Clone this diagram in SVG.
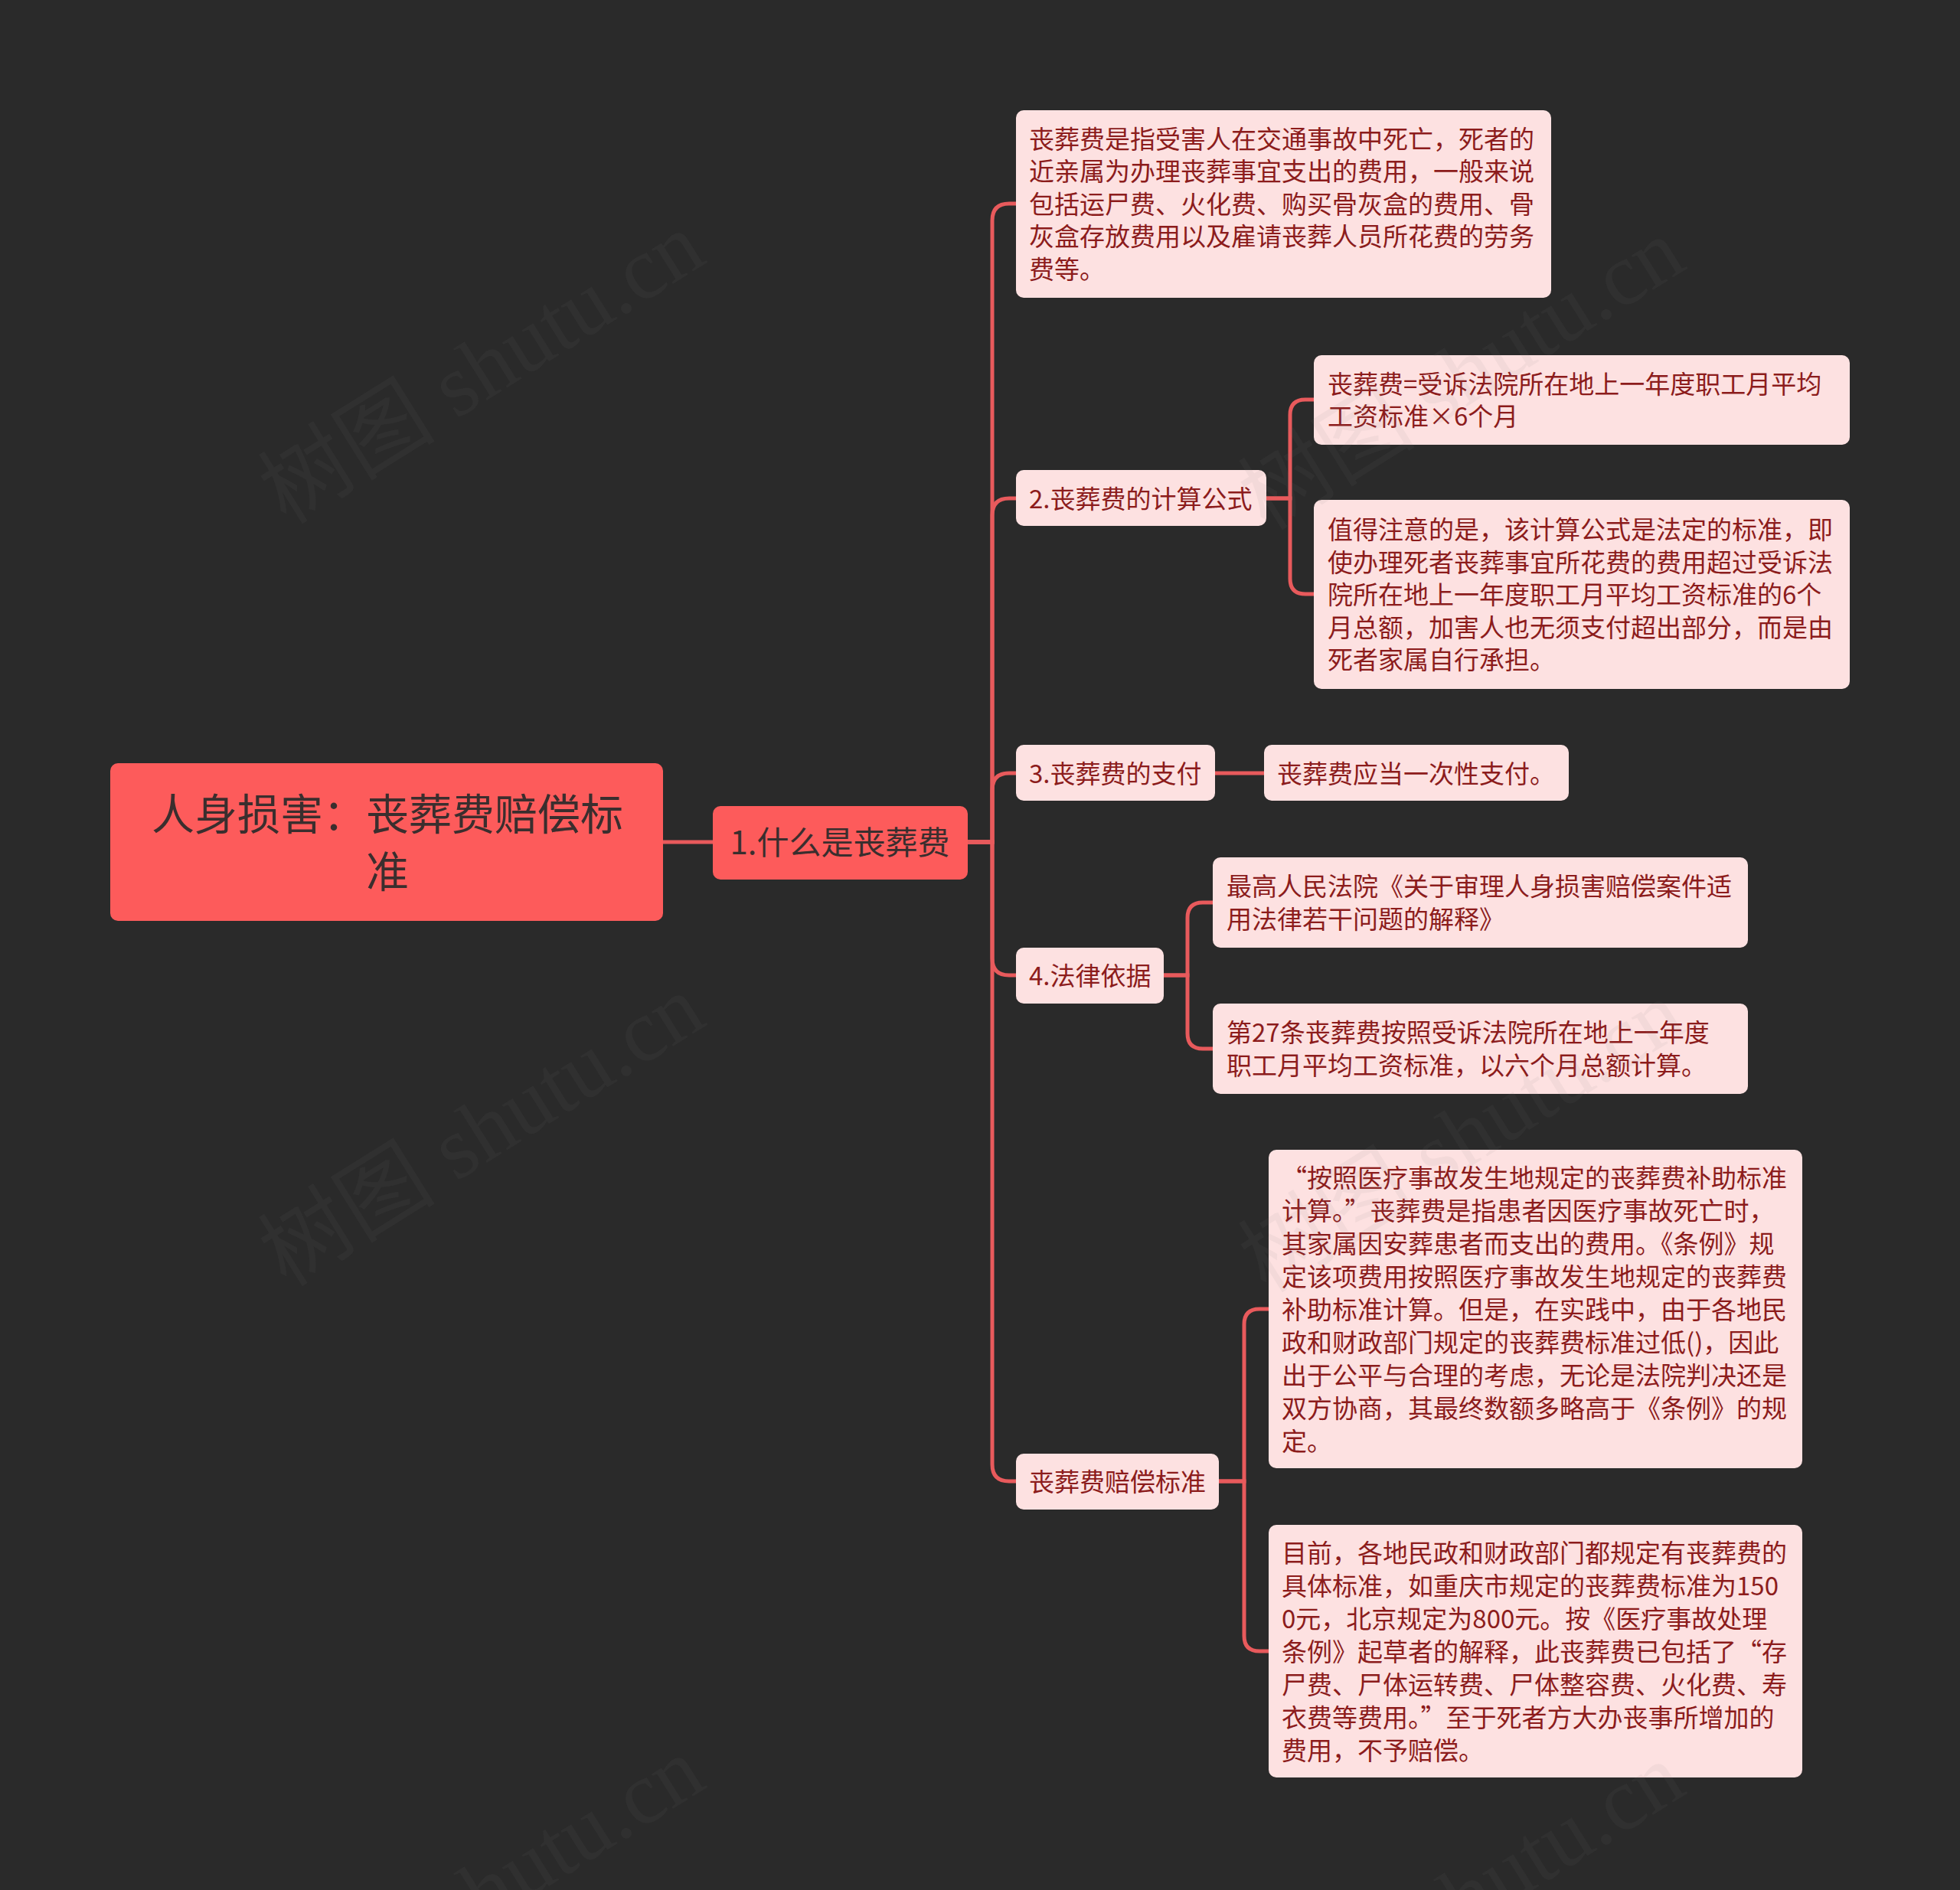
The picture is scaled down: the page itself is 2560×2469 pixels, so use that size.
<svg xmlns="http://www.w3.org/2000/svg" width="2560" height="2469" viewBox="0 0 2560 2469">
<style>
.wm{font-family:"Liberation Serif","Noto Sans CJK SC",serif;font-size:116px;fill:#808080;fill-opacity:0.08;text-anchor:middle}
.root{fill:#fd5b5b}
.n1{fill:#fd5b5b}
.leaf{fill:#fde1e1}
.rt{font-family:"Noto Sans CJK SC",sans-serif;font-size:56px;fill:#3a2e2e;text-anchor:middle}
.t1{font-family:"Noto Sans CJK SC",sans-serif;font-size:42px;fill:#3a2e2e;text-anchor:middle}
.t{font-family:"Noto Sans CJK SC",sans-serif;font-size:33px;fill:#8c1c1c}
.c{fill:none;stroke:#e85a5c;stroke-width:5;stroke-linecap:round}
</style>
<rect width="2560" height="2469" fill="#2a2a2a"/>
<g id="connectors">
<path class="c" d="M865,1100 H931"/>
<path class="c" d="M1264,1100 H1296 V288 Q1296,266 1318,266 H1327"/>
<path class="c" d="M1264,1100 H1296 V673 Q1296,651 1318,651 H1327"/>
<path class="c" d="M1264,1100 H1296 V1032 Q1296,1010 1318,1010 H1327"/>
<path class="c" d="M1264,1100 H1296 V1252 Q1296,1274 1318,1274 H1327"/>
<path class="c" d="M1264,1100 H1296 V1913 Q1296,1935 1318,1935 H1327"/>
<path class="c" d="M1654,651 H1685 V542 Q1685,522 1705,522 H1716"/>
<path class="c" d="M1654,651 H1685 V756 Q1685,776 1705,776 H1716"/>
<path class="c" d="M1587,1010 H1651"/>
<path class="c" d="M1520,1274 H1551 V1199 Q1551,1179 1571,1179 H1584"/>
<path class="c" d="M1520,1274 H1551 V1350 Q1551,1370 1571,1370 H1584"/>
<path class="c" d="M1592,1935 H1625 V1730 Q1625,1710 1645,1710 H1657"/>
<path class="c" d="M1592,1935 H1625 V2137 Q1625,2157 1645,2157 H1657"/>
</g>
<g id="root">
<rect class="root" x="144" y="997" width="722" height="206" rx="10"/>
<text class="rt" x="506" y="1084">人身损害：丧葬费赔偿标</text>
<text class="rt" x="506" y="1159">准</text>
</g>
<g id="node1">
<rect class="n1" x="931" y="1053" width="333" height="96" rx="10"/>
<text class="t1" x="1097" y="1116">1.什么是丧葬费</text>
</g>
<g id="nodeA">
<rect class="leaf" x="1327" y="144" width="699" height="245" rx="10"/>
<text class="t" x="1344" y="193.5">丧葬费是指受害人在交通事故中死亡，死者的</text>
<text class="t" x="1344" y="236">近亲属为办理丧葬事宜支出的费用，一般来说</text>
<text class="t" x="1344" y="278.5">包括运尸费、火化费、购买骨灰盒的费用、骨</text>
<text class="t" x="1344" y="321">灰盒存放费用以及雇请丧葬人员所花费的劳务</text>
<text class="t" x="1344" y="363.5">费等。</text>
</g>
<g id="nodeB">
<rect class="leaf" x="1327" y="614" width="327" height="73" rx="10"/>
<text class="t" x="1344" y="663.5">2.丧葬费的计算公式</text>
</g>
<g id="nodeB1">
<rect class="leaf" x="1716" y="464" width="700" height="117" rx="10"/>
<text class="t" x="1734" y="513.5">丧葬费=受诉法院所在地上一年度职工月平均</text>
<text class="t" x="1734" y="556">工资标准×6个月</text>
</g>
<g id="nodeB2">
<rect class="leaf" x="1716" y="653" width="700" height="247" rx="10"/>
<text class="t" x="1734" y="704">值得注意的是，该计算公式是法定的标准，即</text>
<text class="t" x="1734" y="746.5">使办理死者丧葬事宜所花费的费用超过受诉法</text>
<text class="t" x="1734" y="789">院所在地上一年度职工月平均工资标准的6个</text>
<text class="t" x="1734" y="831.5">月总额，加害人也无须支付超出部分，而是由</text>
<text class="t" x="1734" y="874">死者家属自行承担。</text>
</g>
<g id="nodeC">
<rect class="leaf" x="1327" y="973" width="260" height="73" rx="10"/>
<text class="t" x="1344" y="1022.5">3.丧葬费的支付</text>
</g>
<g id="nodeC1">
<rect class="leaf" x="1651" y="973" width="398" height="73" rx="10"/>
<text class="t" x="1668" y="1022.5">丧葬费应当一次性支付。</text>
</g>
<g id="nodeD">
<rect class="leaf" x="1327" y="1238" width="193" height="73" rx="10"/>
<text class="t" x="1344" y="1287">4.法律依据</text>
</g>
<g id="nodeD1">
<rect class="leaf" x="1584" y="1120" width="699" height="118" rx="10"/>
<text class="t" x="1602" y="1170">最高人民法院《关于审理人身损害赔偿案件适</text>
<text class="t" x="1602" y="1212.5">用法律若干问题的解释》</text>
</g>
<g id="nodeD2">
<rect class="leaf" x="1584" y="1311" width="699" height="118" rx="10"/>
<text class="t" x="1602" y="1361">第27条丧葬费按照受诉法院所在地上一年度</text>
<text class="t" x="1602" y="1403.5">职工月平均工资标准，以六个月总额计算。</text>
</g>
<g id="nodeE">
<rect class="leaf" x="1327" y="1899" width="265" height="73" rx="10"/>
<text class="t" x="1344" y="1948">丧葬费赔偿标准</text>
</g>
<g id="nodeE1">
<rect class="leaf" x="1657" y="1502" width="697" height="416" rx="10"/>
<text class="t" x="1674" y="1550.5">“按照医疗事故发生地规定的丧葬费补助标准</text>
<text class="t" x="1674" y="1593.5">计算。”丧葬费是指患者因医疗事故死亡时，</text>
<text class="t" x="1674" y="1636.5">其家属因安葬患者而支出的费用。《条例》规</text>
<text class="t" x="1674" y="1679.5">定该项费用按照医疗事故发生地规定的丧葬费</text>
<text class="t" x="1674" y="1722.5">补助标准计算。但是，在实践中，由于各地民</text>
<text class="t" x="1674" y="1765.5">政和财政部门规定的丧葬费标准过低()，因此</text>
<text class="t" x="1674" y="1808.5">出于公平与合理的考虑，无论是法院判决还是</text>
<text class="t" x="1674" y="1851.5">双方协商，其最终数额多略高于《条例》的规</text>
<text class="t" x="1674" y="1894.5">定。</text>
</g>
<g id="nodeE2">
<rect class="leaf" x="1657" y="1992" width="697" height="330" rx="10"/>
<text class="t" x="1674" y="2040.5">目前，各地民政和财政部门都规定有丧葬费的</text>
<text class="t" x="1674" y="2083.5">具体标准，如重庆市规定的丧葬费标准为150</text>
<text class="t" x="1674" y="2126.5">0元，北京规定为800元。按《医疗事故处理</text>
<text class="t" x="1674" y="2169.5">条例》起草者的解释，此丧葬费已包括了“存</text>
<text class="t" x="1674" y="2212.5">尸费、尸体运转费、尸体整容费、火化费、寿</text>
<text class="t" x="1674" y="2255.5">衣费等费用。”至于死者方大办丧事所增加的</text>
<text class="t" x="1674" y="2298.5">费用，不予赔偿。</text>
</g>
<g id="watermarks">
<text class="wm" transform="translate(650,514) rotate(-32)">树图 shutu.cn</text>
<text class="wm" transform="translate(650,1510) rotate(-32)">树图 shutu.cn</text>
<text class="wm" transform="translate(1930,522) rotate(-32)">树图 shutu.cn</text>
<text class="wm" transform="translate(1930,1518) rotate(-32)">树图 shutu.cn</text>
<text class="wm" transform="translate(650,2506) rotate(-32)">树图 shutu.cn</text>
<text class="wm" transform="translate(1930,2514) rotate(-32)">树图 shutu.cn</text>
</g>
</svg>
